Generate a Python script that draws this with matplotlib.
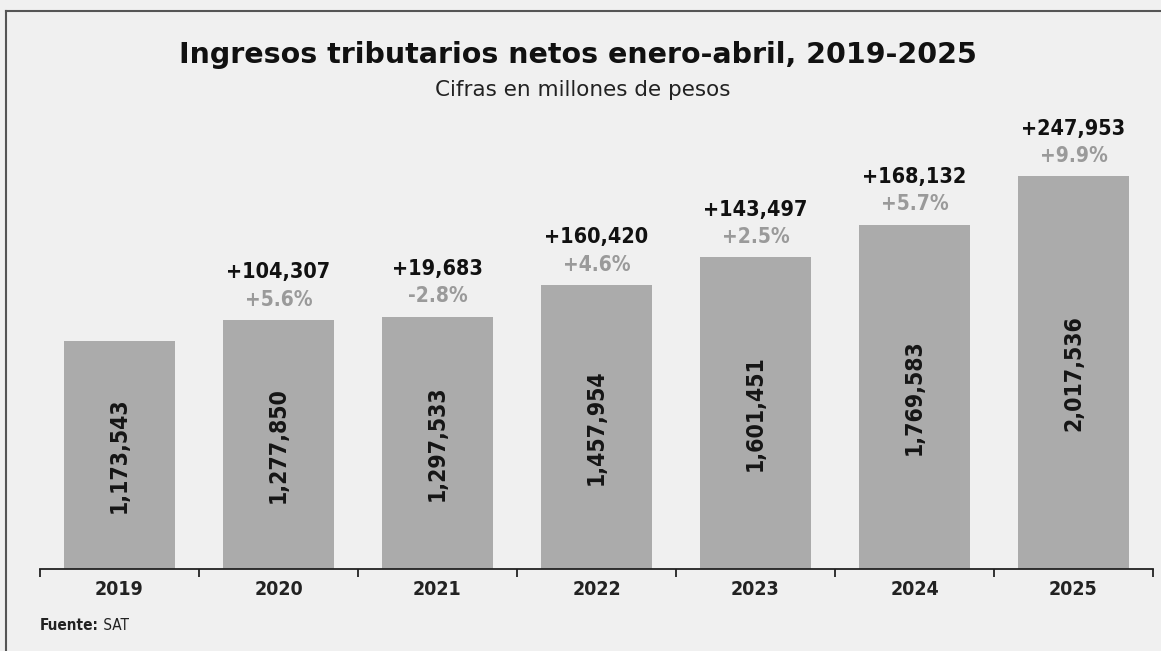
import matplotlib
matplotlib.use("Agg")
import matplotlib.pyplot as plt
from matplotlib import font_manager
from matplotlib.lines import Line2D

years = ["2019", "2020", "2021", "2022", "2023", "2024", "2025"]
ingresos = [1173543, 1277850, 1297533, 1457954, 1601451, 1769583, 2017536]
diferencia = [None, "+104,307", "+19,683", "+160,420", "+143,497", "+168,132", "+247,953"]
variacion = [None, "+5.6%", "-2.8%", "+4.6%", "+2.5%", "+5.7%", "+9.9%"]

# fuente condensada si existe
names = {f.name for f in font_manager.fontManager.ttflist}
if "Liberation Sans Narrow" in names:
    cond = dict(family="Liberation Sans Narrow")
else:
    cond = dict(family="DejaVu Sans", fontstretch="condensed")

bg = "#f0f0f0"
bar_color = "#ababab"
W, H = 1161, 651

fig = plt.figure(figsize=(W / 100, H / 100), dpi=100, facecolor=bg)
ax = fig.add_axes([40 / W, (H - 569) / H, (1153 - 40) / W, (569 - 120) / H], facecolor=bg)

x = range(len(years))
bars = ax.bar(x, ingresos, width=0.7, color=bar_color, zorder=2)
ax.set_xlim(-0.5, 6.5)
ax.set_ylim(0, 449 * 5140)

for i, b in enumerate(bars):
    v = ingresos[i]
    ax.text(i, v / 2, f"{v:,}", rotation=90, ha="center", va="center",
            fontsize=16.5, fontweight="bold", color="#151515", **cond)
    if diferencia[i]:
        ax.annotate(variacion[i], xy=(i, v), xytext=(0, 15), textcoords="offset points",
                    ha="center", va="center", fontsize=15, fontweight="bold",
                    color="#9a9a9a", **cond)
        ax.annotate(diferencia[i], xy=(i, v), xytext=(0, 34.5), textcoords="offset points",
                    ha="center", va="center", fontsize=15.5, fontweight="bold",
                    color="#111111", **cond)

for s in ["top", "right", "left"]:
    ax.spines[s].set_visible(False)
ax.spines["bottom"].set_color("#222222")
ax.spines["bottom"].set_linewidth(1.3)
ax.set_yticks([])
ax.set_xticks(list(x))
ax.set_xticklabels(years, fontsize=14, fontweight="bold", color="#222222", **cond)
ax.tick_params(axis="x", which="major", length=0, pad=8)
ax.set_xticks([i - 0.5 for i in range(len(years) + 1)], minor=True)
ax.tick_params(axis="x", which="minor", length=6, width=1.3, color="#222222", direction="out")

fig.text(578 / W, 1 - 55 / H, "Ingresos tributarios netos enero-abril, 2019-2025",
         ha="center", va="center", fontsize=20.5, fontweight="bold", color="#111111")
fig.text(583 / W, 1 - 90 / H, "Cifras en millones de pesos",
         ha="center", va="center", fontsize=15.5, color="#222222")

t1 = fig.text(40 / W, 1 - 625 / H, "Fuente:", ha="left", va="center",
              fontsize=11, fontweight="bold", color="#222222", **cond)
ax.annotate(" SAT", xy=(1, 0.5), xycoords=t1, ha="left", va="center",
            fontsize=11, color="#222222", **cond)

# marco
fig.add_artist(Line2D([6 / W, 6 / W], [0, 1 - 11 / H], color="#555555", lw=1.5))
fig.add_artist(Line2D([6 / W, 1], [1 - 11 / H, 1 - 11 / H], color="#555555", lw=1.5))

fig.savefig("out.png", dpi=100, facecolor=bg)
